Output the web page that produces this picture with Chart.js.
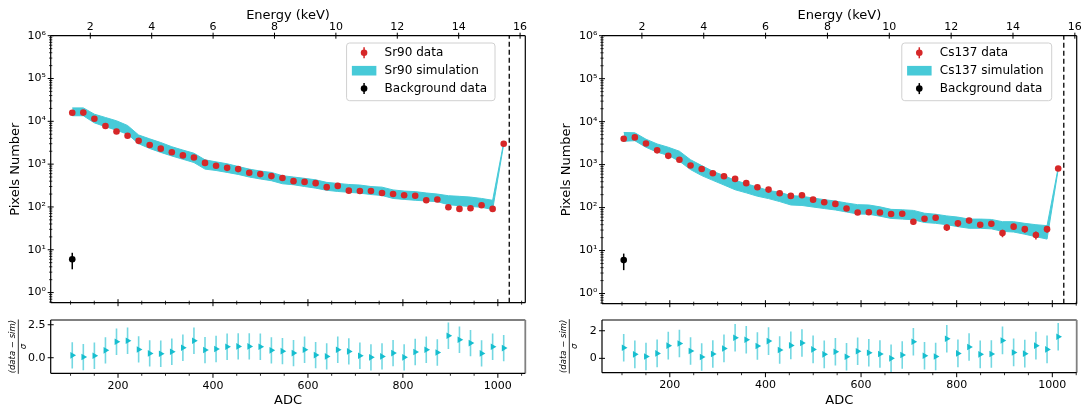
<!DOCTYPE html>
<html>
<head>
<meta charset="utf-8">
<script src="https://cdn.jsdelivr.net/npm/chart.js@4.4.1/dist/chart.umd.min.js"></script>
<style>
    html, body { margin: 0; padding: 0; background: #fff; overflow: hidden; }
    body { width: 1081px; height: 410px; position: relative; }
    canvas { position: absolute; }
</style>
</head>
<body>
<canvas id="srMain" width="540" height="318" style="left:0;top:0"></canvas>
<canvas id="srRes" width="540" height="100" style="left:0;top:310px"></canvas>
<canvas id="csMain" width="540" height="318" style="left:551px;top:0"></canvas>
<canvas id="csRes" width="540" height="100" style="left:551px;top:310px"></canvas>
<script>
// bin centres (ADC)
const adcBins = [
    103.6, 126.9, 150.2, 173.5, 196.8, 220.1, 243.4, 266.7, 290.0, 313.3,
    336.6, 359.9, 383.2, 406.5, 429.8, 453.1, 476.4, 499.7, 523.0, 546.3,
    569.6, 592.9, 616.2, 639.5, 662.8, 686.1, 709.4, 732.7, 756.0, 779.3,
    802.6, 825.9, 849.2, 872.5, 895.8, 919.1, 942.4, 965.7, 989.0, 1012.3
];

const sr90Counts = [
    15800, 16000, 11500, 7800, 5800, 4600, 3500, 2800, 2300, 1900,
    1600, 1430, 1070, 915, 820, 765, 630, 585, 525, 475,
    400, 385, 360, 290, 310, 240, 235, 235, 212, 200,
    187, 183, 143, 149, 98, 90, 93, 110, 90, 3000
];
const sr90Err = [
    126, 126, 107, 88, 76, 68, 59, 53, 48, 44,
    40, 38, 33, 30, 29, 28, 25, 24, 23, 22,
    20, 20, 19, 17, 18, 15, 15, 15, 15, 14,
    14, 14, 12, 12, 10, 9.5, 9.6, 10.5, 9.5, 55
];
const sr90SimHigh = [
    20600, 20600, 14700, 12300, 10300, 8000, 4800, 3900, 3200, 2550,
    2130, 1800, 1260, 1130, 1020, 880, 765, 690, 640, 537,
    500, 465, 430, 375, 355, 335, 325, 300, 290, 250,
    235, 228, 212, 200, 183, 177, 170, 158, 143, 3200
];
const sr90SimLow = [
    13500, 13500, 9200, 7500, 6200, 5000, 3000, 2320, 1880, 1550,
    1300, 1090, 765, 710, 640, 575, 500, 450, 410, 348,
    330, 300, 275, 245, 230, 220, 210, 195, 185, 158,
    150, 143, 138, 133, 113, 107, 103, 98, 87, 2900
];
const sr90Resid = [
    0.18, 0.05, 0.15, 0.56, 1.21, 1.29, 0.63, 0.33, 0.30, 0.45,
    0.76, 1.29, 0.58, 0.66, 0.83, 0.86, 0.86, 0.83, 0.56, 0.50,
    0.35, 0.61, 0.20, 0.10, 0.61, 0.48, 0.15, 0.03, 0.10, 0.35,
    0.03, 0.43, 0.61, 0.40, 1.67, 1.36, 1.11, 0.33, 0.83, 0.73
];

const cs137Counts = [
    4000, 4300, 3100, 2150, 1600, 1300, 950, 790, 630, 535,
    465, 370, 297, 262, 215, 187, 193, 153, 133, 122,
    95, 77, 78, 77, 71, 72, 47, 55, 58, 34.5,
    43, 50, 40, 42, 25.5, 36, 31.5, 23, 31.5, 810
];
const cs137Err = [
    63, 66, 56, 46, 40, 36, 31, 28, 25, 23,
    22, 19, 17, 16, 15, 14, 14, 12, 12, 11,
    10, 9, 9, 9, 8.4, 8.5, 6.9, 7.4, 7.6, 5.9,
    6.6, 7.1, 6.3, 6.5, 5.0, 6.0, 5.6, 4.8, 5.6, 28
];
const cs137SimHigh = [
    5600, 5500, 3900, 3030, 2540, 2050, 1300, 950, 700, 555,
    430, 360, 300, 250, 228, 190, 183, 167, 153, 142,
    128, 117, 115, 104, 91, 89, 86, 74, 70, 64,
    60, 54, 54, 53, 47, 47, 43, 40, 38, 850
];
const cs137SimLow = [
    3500, 3600, 2530, 1950, 1640, 1200, 765, 555, 430, 335,
    260, 220, 184, 162, 138, 115, 112, 103, 95, 88,
    79, 71, 70, 63, 56, 54, 52, 45, 43, 40,
    36, 33, 33, 32, 28, 27, 24, 21, 18.5, 770
];
const cs137Resid = [
    0.77, 0.29, 0.14, 0.36, 0.92, 1.08, 0.53, 0.10, 0.31, 0.72,
    1.49, 1.35, 0.89, 1.25, 0.60, 0.94, 1.11, 0.65, 0.29, 0.48,
    0.12, 0.51, 0.41, 0.31, 0.00, 0.24, 1.20, 0.19, 0.14, 1.42,
    0.36, 0.82, 0.29, 0.31, 1.30, 0.43, 0.34, 0.92, 0.65, 1.57
];
const residErr = 1;

const bkgAdc = [103.6];
const bkgCounts = [6];
const bkgErr = [2.5];

const thresholdAdc = 1024;

// axes
const adcTicks = [200, 400, 600, 800, 1000];
const energyTicks = [2, 4, 6, 8, 10, 12, 14, 16];
const countTicks = [1, 10, 100, 1000, 10000, 100000, 1000000];
const countTickLabels = ["10⁰", "10¹", "10²", "10³", "10⁴", "10⁵", "10⁶"];
const countRange = [0.58, 1000000];

Chart.defaults.font.family = "'DejaVu Sans', sans-serif";
Chart.defaults.color = "#000";

const bandColor = "#47cad8";
const dataRed = "#d62728";
const residCyan = "#17becf";

const xy = (xs, ys) => xs.map((x, i) => ({ x, y: ys[i] }));

function minorLog(lo, hi) {
    const out = [];
    for (let e = -1; e <= 6; e++) {
        for (let k = 2; k <= 9; k++) {
            const v = k * Math.pow(10, e);
            if (v >= lo && v <= hi) out.push(v);
        }
    }
    return out;
}
function minorAdc() {
    const out = [];
    for (let v = 50; v <= 1050; v += 50) if (v % 200 !== 0) out.push(v);
    return out;
}

function fitTo(size) {
    return (s) => {
        if (s.isHorizontal()) s.height = size; else s.width = size;
        s.paddingLeft = s.paddingRight = s.paddingTop = s.paddingBottom = 0;
    };
}
const useTicks = (vals) => (s) => { s.ticks = vals.map(v => ({ value: v })); };
const noGrid = { display: false, drawTicks: false };

// error bars under each marker, through the dataset's own scales
const errorBars = {
    id: "errorBars",
    beforeDatasetDraw(chart, args) {
        const ds = chart.data.datasets[args.index];
        if (ds.errors == null) return;
        const meta = args.meta;
        const ys = chart.scales[meta.yAxisID];
        const ctx = chart.ctx;
        ctx.save();
        ctx.strokeStyle = ds.errorColor || ds.backgroundColor;
        ctx.lineWidth = ds.errorWidth || 1.5;
        ctx.beginPath();
        ds.data.forEach((pt, i) => {
            const e = Array.isArray(ds.errors) ? ds.errors[i] : ds.errors;
            const px = meta.data[i].x;
            ctx.moveTo(px, ys.getPixelForValue(pt.y - e));
            ctx.lineTo(px, ys.getPixelForValue(pt.y + e));
        });
        ctx.stroke();
        ctx.restore();
    }
};

const tickMarks = {
    id: "tickMarks",
    afterDraw(chart, args, o) {
        const ctx = chart.ctx;
        (o.sets || []).forEach(t => {
            const sc = chart.scales[t.scale];
            ctx.save();
            ctx.strokeStyle = "#000";
            ctx.lineWidth = t.width;
            ctx.beginPath();
            t.values.forEach(v => {
                if (v < sc.min || v > sc.max) return;
                const p = sc.getPixelForValue(v);
                if (sc.options.position === "left") {
                    ctx.moveTo(sc.right - t.outer, p); ctx.lineTo(sc.right + t.inner, p);
                } else if (sc.options.position === "bottom") {
                    ctx.moveTo(p, sc.top - t.inner); ctx.lineTo(p, sc.top + t.outer);
                } else {
                    ctx.moveTo(p, sc.bottom + t.inner); ctx.lineTo(p, sc.bottom - t.outer);
                }
            });
            ctx.stroke();
            ctx.restore();
        });
    }
};

const frame = {
    id: "frame",
    afterDraw(chart, args, o) {
        const { ctx, chartArea: a } = chart;
        const side = (c, w, x1, y1, x2, y2) => {
            ctx.strokeStyle = c; ctx.lineWidth = w;
            ctx.beginPath(); ctx.moveTo(x1, y1); ctx.lineTo(x2, y2); ctx.stroke();
        };
        ctx.save();
        side(o.topColor, o.topWidth, a.left, a.top, a.right, a.top);
        side(o.topColor, o.topWidth, a.right, a.top, a.right, a.bottom);
        side("#000", o.width, a.left, a.bottom, a.right, a.bottom);
        side("#000", o.width, a.left, a.top, a.left, a.bottom);
        ctx.restore();
    }
};

const boxLegend = {
    id: "boxLegend",
    afterDraw(chart, args, o) {
        if (!o.items) return;
        const { ctx, chartArea: a } = chart;
        const ds = chart.data.datasets;
        ctx.save();
        ctx.font = "12px 'DejaVu Sans'";
        const tw = Math.max(...o.items.map(i => ctx.measureText(ds[i].label).width));
        const w = 38 + tw + 8;
        const h = 57.7;
        const x0 = a.right - o.right - w;
        const y0 = a.top + 7.3;
        ctx.fillStyle = "rgba(255,255,255,0.8)";
        ctx.strokeStyle = "#d0d0d0";
        ctx.lineWidth = 1;
        ctx.beginPath();
        ctx.roundRect(x0, y0, w, h, 3);
        ctx.fill();
        ctx.stroke();
        o.items.forEach((idx, r) => {
            const d = ds[idx];
            const cy = y0 + 9.8 + r * 17.9;
            const cx = x0 + 17.5;
            if (d.legendKind === "patch") {
                ctx.fillStyle = d.backgroundColor;
                ctx.fillRect(cx - 12.2, cy - 4.8, 24.5, 9.6);
            } else {
                ctx.strokeStyle = d.backgroundColor;
                ctx.lineWidth = 1.5;
                ctx.beginPath(); ctx.moveTo(cx, cy - 5.5); ctx.lineTo(cx, cy + 5.5); ctx.stroke();
                ctx.fillStyle = d.backgroundColor;
                ctx.beginPath(); ctx.arc(cx, cy, 3.3, 0, Math.PI * 2); ctx.fill();
            }
            ctx.fillStyle = "#000";
            ctx.textBaseline = "middle";
            ctx.fillText(d.label, x0 + 38, cy);
        });
        ctx.restore();
    }
};

// fraction bar for the (data - sim)/sigma title
const fracBar = {
    id: "fracBar",
    afterDraw(chart, args, o) {
        if (!o.text) return;
        const s = chart.scales.y;
        const ctx = chart.ctx;
        ctx.save();
        ctx.font = "italic " + o.size + "px 'DejaVu Sans'";
        const w = ctx.measureText(o.text).width + 1;
        const x = s.left + o.pad + o.size * o.lh;
        const cy = (s.top + s.bottom) / 2;
        ctx.strokeStyle = "#000";
        ctx.lineWidth = 0.8;
        ctx.beginPath(); ctx.moveTo(x, cy - w / 2); ctx.lineTo(x, cy + w / 2); ctx.stroke();
        ctx.restore();
    }
};

const plugins = [errorBars, tickMarks, frame, boxLegend, fracBar];

function mainChart(p) {
    return new Chart(document.getElementById(p.mainId), {
        type: "line",
        data: {
            datasets: [
                { label: p.name + " data", data: xy(adcBins, p.counts), errors: p.errors,
                  showLine: false, pointRadius: 3.3, pointBackgroundColor: dataRed,
                  backgroundColor: dataRed, pointBorderWidth: 0, order: 0 },
                { label: "Background data", data: xy(bkgAdc, bkgCounts), errors: bkgErr,
                  showLine: false, pointRadius: 3.3, pointBackgroundColor: "#000",
                  backgroundColor: "#000", pointBorderWidth: 0, order: 0 },
                { label: p.name + " simulation", legendKind: "patch", data: xy(adcBins, p.simHigh),
                  borderColor: bandColor, backgroundColor: bandColor, borderWidth: 1,
                  pointRadius: 0, fill: false, order: 1 },
                { label: "", data: xy(adcBins, p.simLow), borderColor: bandColor,
                  backgroundColor: bandColor, borderWidth: 1, pointRadius: 0, fill: "-1", order: 1 },
                { label: "", data: [{ x: thresholdAdc, y: countRange[0] }, { x: thresholdAdc, y: countRange[1] }],
                  borderColor: "#000", borderWidth: 1.3, borderDash: [5, 3], pointRadius: 0,
                  fill: false, order: 2 }
            ]
        },
        options: {
            responsive: false,
            animation: false,
            events: [],
            layout: { padding: { left: 0, top: 0, right: p.padRight, bottom: 0 }, autoPadding: false },
            plugins: {
                legend: { display: false },
                tooltip: { enabled: false },
                boxLegend: { items: [0, 2, 1], right: p.legendRight },
                frame: { width: 1.2, topColor: "#000", topWidth: 1.2 },
                tickMarks: {
                    sets: [
                        { scale: "y", values: countTicks, inner: 3, outer: 3, width: 1 },
                        { scale: "y", values: minorLog(countRange[0], countRange[1]), inner: 1.6, outer: 1.6, width: 0.8 },
                        { scale: "x", values: adcTicks, inner: 3.5, outer: 3.5, width: 1 },
                        { scale: "x", values: minorAdc(), inner: 2, outer: 2, width: 0.8 },
                        { scale: "x2", values: energyTicks, inner: 3, outer: 3, width: 1 }
                    ]
                }
            },
            scales: {
                x: {
                    type: "linear", position: "bottom", min: p.adcRange[0], max: p.adcRange[1],
                    grid: noGrid, border: { display: false },
                    ticks: { display: false },
                    afterFit: fitTo(p.mainBottom)
                },
                x2: {
                    type: "linear", position: "top", min: p.energyRange[0], max: p.energyRange[1],
                    grid: noGrid, border: { display: false },
                    afterBuildTicks: useTicks(energyTicks),
                    ticks: { callback: v => String(v), padding: 2, font: { size: 11 }, maxRotation: 0, autoSkip: false },
                    title: { display: true, text: "Energy (keV)", font: { size: 13 }, padding: { top: 7.5, bottom: 0 } },
                    afterFit: fitTo(p.plotTop)
                },
                y: {
                    type: "logarithmic", position: "left", min: countRange[0], max: countRange[1],
                    grid: noGrid, border: { display: false },
                    afterBuildTicks: useTicks(countTicks),
                    ticks: { callback: (v, i) => countTickLabels[i], padding: 4.7, font: { size: 11 }, autoSkip: false },
                    title: { display: true, text: "Pixels Number", font: { size: 13 }, padding: { top: 8.2, bottom: 0 } },
                    afterFit: fitTo(p.plotLeft)
                }
            }
        },
        plugins
    });
}

function residChart(p) {
    const fracSize = 8.5, fracLh = 1.25, fracPad = 7.7;
    return new Chart(document.getElementById(p.resId), {
        type: "line",
        data: {
            datasets: [
                { label: "", data: xy(adcBins, p.resid), errors: residErr,
                  errorColor: "rgba(23,190,207,0.6)", errorWidth: 1.6,
                  showLine: false, pointStyle: "triangle", pointRotation: 90, pointRadius: 3.8,
                  pointBackgroundColor: residCyan, backgroundColor: residCyan, pointBorderWidth: 0 }
            ]
        },
        options: {
            responsive: false,
            animation: false,
            events: [],
            layout: { padding: { left: 0, top: p.resTop, right: p.padRight, bottom: 0 }, autoPadding: false },
            plugins: {
                legend: { display: false },
                tooltip: { enabled: false },
                frame: { width: 1.2, topColor: "#808080", topWidth: 1.8 },
                fracBar: { text: "(data − sim)", size: fracSize, lh: fracLh, pad: fracPad },
                tickMarks: {
                    sets: [
                        { scale: "y", values: p.residTicks, inner: 3, outer: 3, width: 1 },
                        { scale: "x", values: adcTicks, inner: 0, outer: 4.5, width: 1 },
                        { scale: "x", values: minorAdc(), inner: 0, outer: 2.5, width: 0.8 }
                    ]
                }
            },
            scales: {
                x: {
                    type: "linear", position: "bottom", min: p.adcRange[0], max: p.adcRange[1],
                    grid: noGrid, border: { display: false },
                    afterBuildTicks: useTicks(adcTicks),
                    ticks: { callback: v => String(v), padding: 5.8, font: { size: 11 }, maxRotation: 0, autoSkip: false },
                    title: { display: true, text: "ADC", font: { size: 13 }, padding: { top: 0, bottom: 1.7 } },
                    afterFit: fitTo(p.resBottom)
                },
                y: {
                    type: "linear", position: "left", min: p.residRange[0], max: p.residRange[1],
                    grid: noGrid, border: { display: false },
                    afterBuildTicks: useTicks(p.residTicks),
                    ticks: { callback: (v, i) => p.residLabels[i], padding: 5.2, font: { size: 11 }, autoSkip: false },
                    title: {
                        display: true, text: ["(data − sim)", "σ"],
                        font: { size: fracSize, style: "italic", lineHeight: fracLh },
                        padding: { top: fracPad, bottom: 0 }
                    },
                    afterFit: fitTo(p.plotLeft)
                }
            }
        },
        plugins
    });
}

const panels = [
    {
        name: "Sr90", mainId: "srMain", resId: "srRes",
        counts: sr90Counts, errors: sr90Err, simHigh: sr90SimHigh, simLow: sr90SimLow, resid: sr90Resid,
        adcRange: [58.2, 1057.8], energyRange: [0.71, 16.17],
        residRange: [-1.18, 2.86], residTicks: [0, 2.5], residLabels: ["0.0", "2.5"],
        plotLeft: 50.7, plotTop: 35.7, mainBottom: 15.3, padRight: 14.7,
        resTop: 10, resBottom: 36.7, legendRight: 30.3
    },
    {
        name: "Cs137", mainId: "csMain", resId: "csRes",
        counts: cs137Counts, errors: cs137Err, simHigh: cs137SimHigh, simLow: cs137SimLow, resid: cs137Resid,
        adcRange: [58.2, 1051], energyRange: [0.71, 16.06],
        residRange: [-1.04, 2.78], residTicks: [0, 2], residLabels: ["0", "2"],
        plotLeft: 51, plotTop: 35.7, mainBottom: 14.3, padRight: 14.3,
        resTop: 10, resBottom: 37.3, legendRight: 25
    }
];

panels.forEach(p => {
    mainChart(p);
    residChart(p);
});
</script>
</body>
</html>
